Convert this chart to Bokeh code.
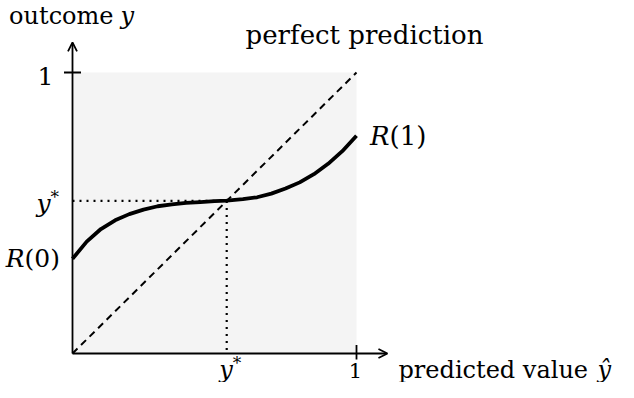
from bokeh.plotting import figure
from bokeh.models import Range1d, Label, Arrow, OpenHead
from bokeh.embed import file_html
from bokeh.resources import INLINE

# ---- data ----
ystar = 0.543
curve_x = [0.00, 0.05, 0.10, 0.15, 0.20, 0.25, 0.30, 0.35, 0.40, 0.45, 0.50,
           0.543, 0.60, 0.65, 0.70, 0.75, 0.80, 0.85, 0.90, 0.95, 1.00]
curve_y = [0.337, 0.398, 0.443, 0.474, 0.496, 0.512, 0.524, 0.531, 0.536, 0.539, 0.542,
           0.544, 0.549, 0.556, 0.569, 0.587, 0.609, 0.638, 0.675, 0.720, 0.775]
diag_x = [0, 1]
diag_y = [0, 1]
axis_x_end = 1.109
axis_y_end = 1.107
tick_value = 1

# ---- layout ----
W, H = 618, 382
PXX = 284.0
PXY = 281.0
x0c = 72.0
y0c = 353.0

p = figure(width=W, height=H, output_backend="svg", toolbar_location=None,
           x_range=Range1d(-x0c / PXX, (W - x0c) / PXX),
           y_range=Range1d(-(H - y0c) / PXY, y0c / PXY),
           min_border=0)
p.axis.visible = False
p.grid.visible = False
p.outline_line_color = None
p.background_fill_color = None
p.border_fill_color = "white"


def dx(px):
    return px / PXX


def dy(px):
    # px measured downward
    return -px / PXY


# gray area
p.quad(left=[0], right=[1], bottom=[0], top=[1], fill_color="#f4f4f4", line_color=None)

LW = 1.8
# dotted guides
p.line([0, ystar], [ystar, ystar], line_color="black", line_width=2.2, line_dash="2 5")
p.line([ystar, ystar], [ystar, 0], line_color="black", line_width=2.2, line_dash="2 5")
# dashed diagonal
p.line(diag_x, diag_y, line_color="black", line_width=2.0, line_dash="7 5")
# curve R
p.line(curve_x, curve_y, line_color="black", line_width=3.8, line_join="round")

# axes with arrows
p.add_layout(Arrow(end=OpenHead(size=9, line_width=LW, line_color="black"),
                   x_start=0, y_start=0, x_end=0, y_end=axis_y_end,
                   line_width=LW, line_color="black"))
p.add_layout(Arrow(end=OpenHead(size=9, line_width=LW, line_color="black"),
                   x_start=0, y_start=0, x_end=axis_x_end, y_end=0,
                   line_width=LW, line_color="black"))
# ticks
p.line([dx(-8.5), dx(8.5)], [tick_value, tick_value], line_color="black", line_width=LW)
p.line([tick_value, tick_value], [dy(-8.5), dy(6)], line_color="black", line_width=LW)

FONT = "DejaVu Serif"
FS = "25px"
SUP = "17px"


def lab(x, y, text, align="left", italic=False, size=FS):
    p.add_layout(Label(x=x, y=y, text=text, text_font=FONT, text_font_size=size,
                       text_font_style="italic" if italic else "normal",
                       text_align=align, text_baseline="alphabetic",
                       text_color="black"))


# y-axis labels
lab(0 + dx(-19), 1 + dy(3), "1", align="right")
lab(0 + dx(-22), ystar + dy(3), "y", align="right", italic=True)
lab(0 + dx(-22), ystar + dy(-4), "*", align="left", size=SUP)
lab(0 + dx(-48), curve_y[0] + dy(0), "R", align="right", italic=True)
lab(0 + dx(-48), curve_y[0] + dy(0), "(0)", align="left")
# title of y axis
lab(0 + dx(41), axis_y_end + dy(-26), "outcome", align="right", size="24px")
lab(0 + dx(48), axis_y_end + dy(-26), "y", align="left", italic=True, size="24px")

# x-axis labels
lab(1 + dx(-1), 0 + dy(17), "1", align="center", size="21px")
lab(ystar + dx(6), 0 + dy(16), "y", align="right", italic=True, size="24px")
lab(ystar + dx(6), 0 + dy(9), "*", align="left", size=SUP)
lab(1 + dx(42), 0 + dy(16), "predicted value", align="left", size="24px")
lab(1 + dx(241), 0 + dy(16), "ŷ", align="left", italic=True, size="24px")

# curve end label
lab(1 + dx(33), curve_y[-1] + dy(0), "R", align="right", italic=True, size="26px")
lab(1 + dx(33), curve_y[-1] + dy(0), "(1)", align="left", size="26px")

# diagonal label
lab(1 + dx(8), 1 + dy(-38), "perfect prediction", align="center", size="26px")

open("out.html", "w").write(file_html(p, INLINE))
